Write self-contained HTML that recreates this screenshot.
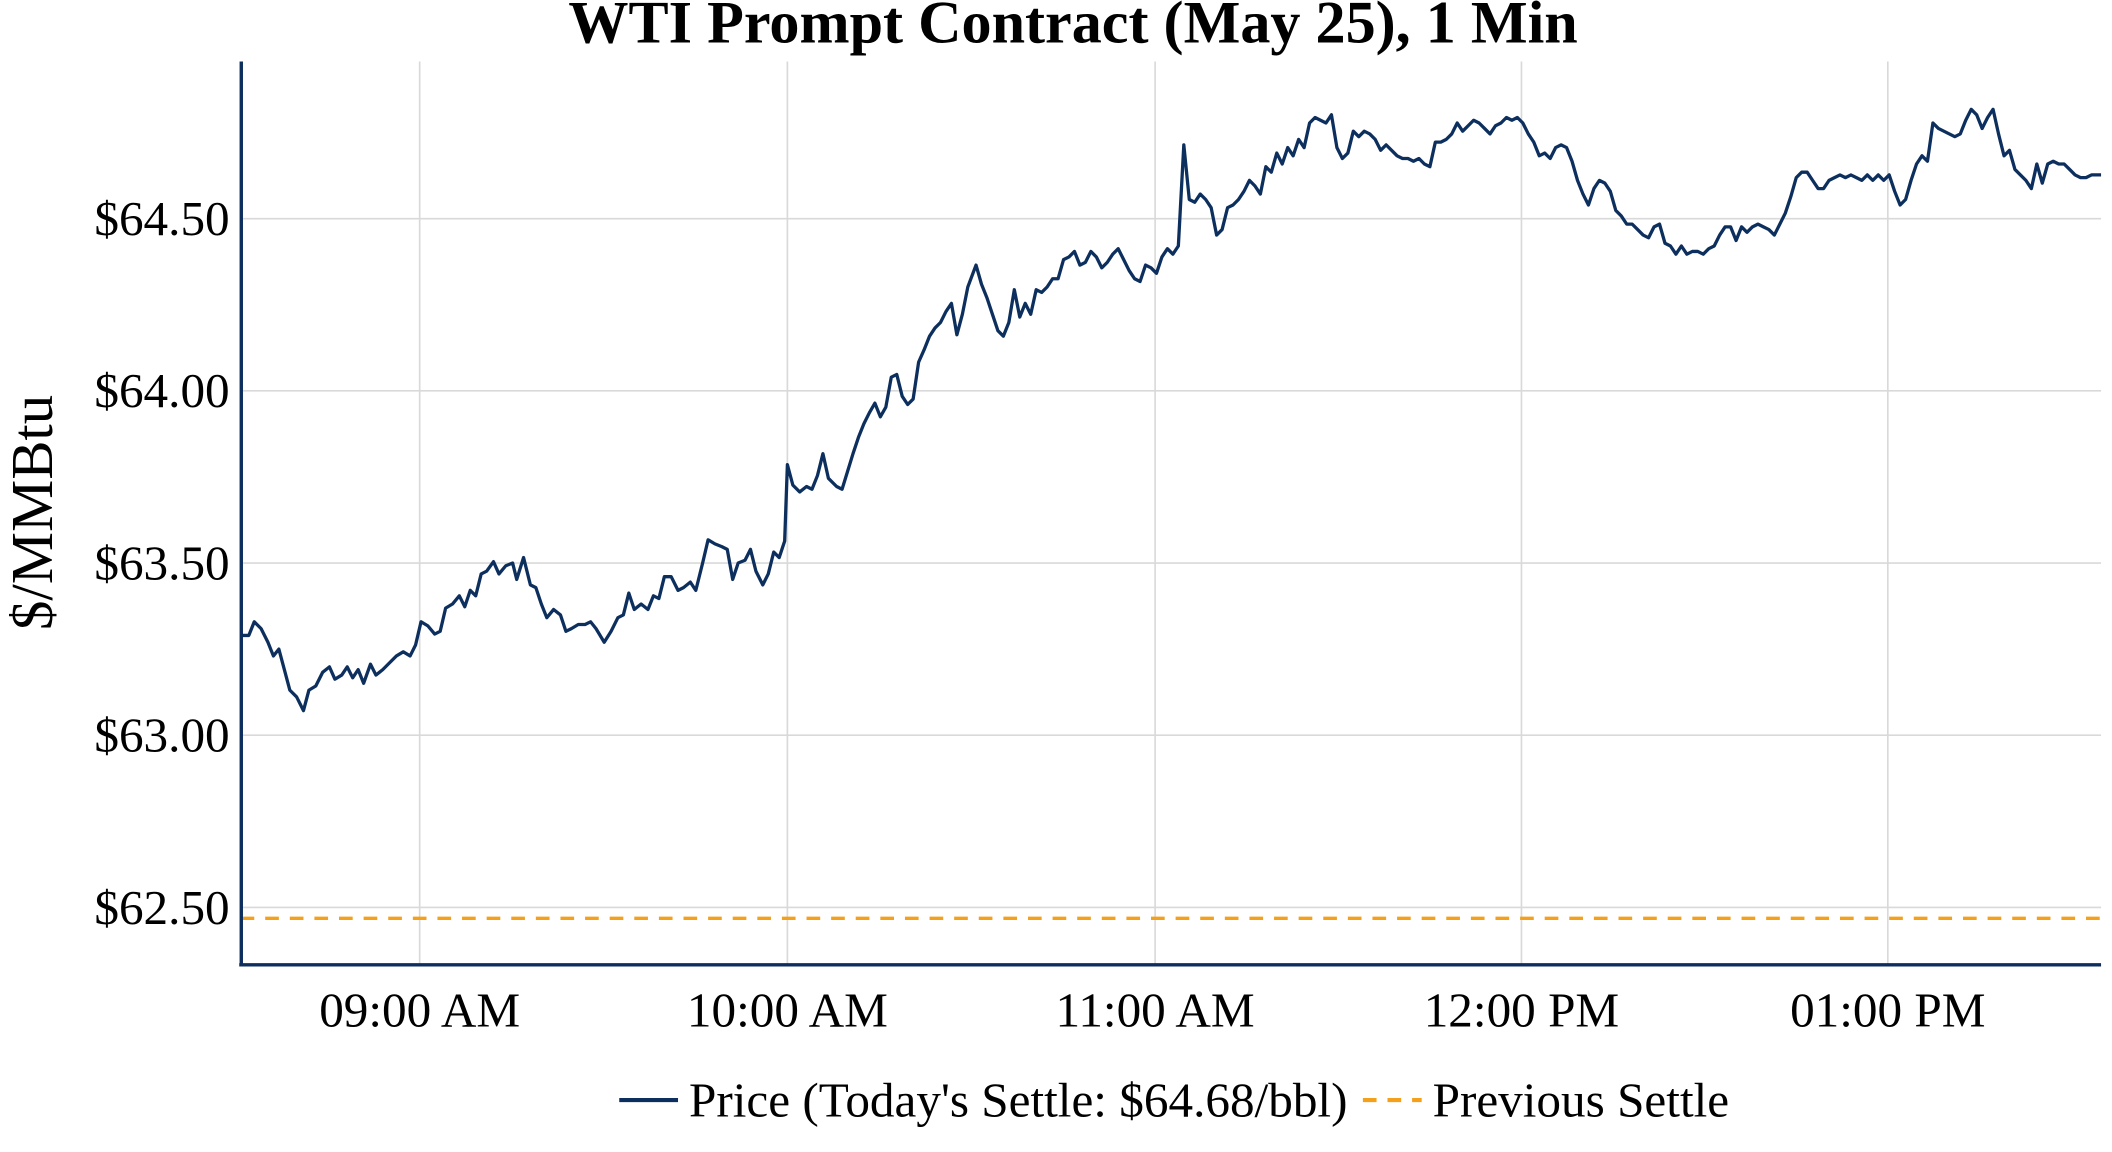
<!DOCTYPE html>
<html><head><meta charset="utf-8"><style>
html,body{margin:0;padding:0;background:#fff;}
svg{display:block;}
text{font-family:"Liberation Serif",serif;fill:#000;}
</style></head><body>
<svg width="2112" height="1152" viewBox="0 0 1545 843" preserveAspectRatio="none" xmlns="http://www.w3.org/2000/svg">
<rect width="1545" height="843" fill="#fff"/>
<g stroke="#d9d9d9" stroke-width="1.2">
<line x1="176" x2="1537" y1="160" y2="160"/>
<line x1="176" x2="1537" y1="286" y2="286"/>
<line x1="176" x2="1537" y1="412" y2="412"/>
<line x1="176" x2="1537" y1="538" y2="538"/>
<line x1="176" x2="1537" y1="664" y2="664"/>
<line x1="307" x2="307" y1="45" y2="706"/>
<line x1="576" x2="576" y1="45" y2="706"/>
<line x1="845" x2="845" y1="45" y2="706"/>
<line x1="1113" x2="1113" y1="45" y2="706"/>
<line x1="1381" x2="1381" y1="45" y2="706"/>
</g>
<line x1="176" x2="1537" y1="672" y2="672" stroke="#f5a01a" stroke-width="2.5" stroke-dasharray="10,8"/>
<polyline fill="none" stroke="#0d2f5e" stroke-width="2.4" stroke-linejoin="round" points="176,465 182,465 186,455 191,460 196,470 200,480 204,475 208,490 212,505 217,510 222,520 226,505 231,502 236,492 241,488 245,497 250,494 254,488 258,496 262,490 266,500 271,486 275,494 280,490 285,485 290,480 295,477 300,480 304,472 308,455 313,458 318,464 322,462 326,445 331,442 336,436 340,444 344,432 348,436 352,420 356,418 361,411 365,420 370,414 375,412 378,424 383,408 388,428 392,430 396,442 400,452 405,446 410,450 414,462 418,460 423,457 428,457 432,455 436,460 442,470 447,462 452,452 456,450 460,434 464,446 469,442 474,446 478,436 482,438 486,422 491,422 496,432 500,430 505,426 509,432 514,412 518,395 523,398 528,400 532,402 536,424 540,412 545,410 549,402 553,418 558,428 562,420 566,404 570,408 574,396 576,340 580,355 585,360 590,356 594,358 598,348 602,332 606,350 612,356 616,358 620,345 624,332 628,320 632,310 636,302 640,295 644,305 648,298 652,276 656,274 660,290 664,296 668,292 672,265 676,256 680,246 684,240 688,236 692,228 696,222 700,245 704,230 708,210 714,194 718,208 722,218 726,230 730,242 734,246 738,236 742,212 746,232 750,222 754,230 758,212 762,214 766,210 770,204 774,204 778,190 782,188 786,184 790,194 794,192 798,184 802,188 806,196 810,192 814,186 818,182 822,190 826,198 830,204 834,206 838,194 842,196 846,200 850,188 854,182 858,186 862,180 866,106 870,146 874,148 878,142 882,146 886,152 890,172 894,168 898,152 902,150 906,146 910,140 914,132 918,136 922,142 926,122 930,126 934,112 938,120 942,108 946,114 950,102 954,108 958,90 962,86 966,88 970,90 974,84 978,108 982,116 986,112 990,96 994,100 998,96 1002,98 1006,102 1010,110 1014,106 1018,110 1022,114 1026,116 1030,116 1034,118 1038,116 1042,120 1046,122 1050,104 1054,104 1058,102 1062,98 1066,90 1070,96 1074,92 1078,88 1082,90 1086,94 1090,98 1094,92 1098,90 1102,86 1106,88 1110,86 1114,90 1118,98 1122,104 1126,114 1130,112 1134,116 1138,108 1142,106 1146,108 1150,118 1154,132 1158,142 1162,150 1166,138 1170,132 1174,134 1178,140 1182,154 1186,158 1190,164 1194,164 1198,168 1202,172 1206,174 1210,166 1214,164 1218,178 1222,180 1226,186 1230,180 1234,186 1238,184 1242,184 1246,186 1250,182 1254,180 1258,172 1262,166 1266,166 1270,176 1274,166 1278,170 1282,166 1286,164 1290,166 1294,168 1298,172 1302,164 1306,156 1310,144 1314,130 1318,126 1322,126 1326,132 1330,138 1334,138 1338,132 1342,130 1346,128 1350,130 1354,128 1358,130 1362,132 1366,128 1370,132 1374,128 1378,132 1382,128 1386,140 1390,150 1394,146 1398,132 1402,120 1406,114 1410,118 1414,90 1418,94 1422,96 1426,98 1430,100 1434,98 1438,88 1442,80 1446,84 1450,94 1454,86 1458,80 1462,98 1466,114 1470,110 1474,124 1478,128 1482,132 1486,138 1490,120 1494,134 1498,120 1502,118 1506,120 1510,120 1514,124 1518,128 1522,130 1526,130 1530,128 1537,128"/>
<line x1="176.5" x2="176.5" y1="45" y2="707" stroke="#0d2f5e" stroke-width="2.5"/>
<line x1="175" x2="1537" y1="706" y2="706" stroke="#0d2f5e" stroke-width="2.5"/>
<text x="785" y="31" text-anchor="middle" font-size="44" font-weight="bold">WTI Prompt Contract (May 25), 1 Min</text>
<g font-size="36" text-anchor="end">
<text x="168" y="172">$64.50</text>
<text x="168" y="298">$64.00</text>
<text x="168" y="424">$63.50</text>
<text x="168" y="550">$63.00</text>
<text x="168" y="676">$62.50</text>
</g>
<g font-size="36" text-anchor="middle">
<text x="307" y="751">09:00 AM</text>
<text x="576" y="751">10:00 AM</text>
<text x="845" y="751">11:00 AM</text>
<text x="1113" y="751">12:00 PM</text>
<text x="1381" y="751">01:00 PM</text>
</g>
<text transform="translate(38,375) rotate(-90)" text-anchor="middle" font-size="43">$/MMBtu</text>
<line x1="453" x2="496" y1="805" y2="805" stroke="#0d2f5e" stroke-width="3"/>
<text x="504" y="817" font-size="36">Price (Today's Settle: $64.68/bbl)</text>
<line x1="997" x2="1040" y1="805" y2="805" stroke="#f5a01a" stroke-width="3" stroke-dasharray="10,8"/>
<text x="1048" y="817" font-size="36">Previous Settle</text>
</svg>
</body></html>
